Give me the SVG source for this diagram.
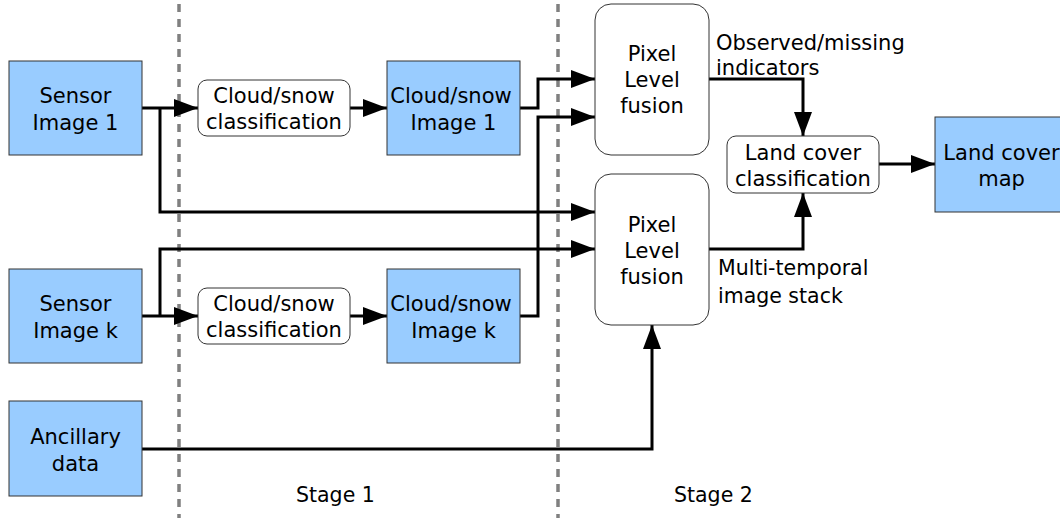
<svg xmlns="http://www.w3.org/2000/svg" width="1060" height="518" viewBox="0 0 1060 518">
<style>
  text { font-family: "DejaVu Sans", "Verdana", sans-serif; font-size: 21px; fill: #000; }
  .c { text-anchor: middle; }
  .sm { font-size: 20.5px; }
  .blue { fill: #99ccff; stroke: #333; stroke-width: 1; }
  .round { fill: #fff; stroke: #333; stroke-width: 1; }
  .conn { fill: none; stroke: #000; stroke-width: 3; marker-end: url(#arrow); }
  .div { stroke: #808080; stroke-width: 3.5; stroke-dasharray: 8 7; }
</style>
<defs>
  <marker id="arrow" markerUnits="userSpaceOnUse" markerWidth="24" markerHeight="18" refX="24" refY="9" orient="auto">
    <path d="M0,0 L24,9 L0,18 z" fill="#000"/>
  </marker>
</defs>
<rect width="1060" height="518" fill="#fff"/>
<g id="dividers">
  <line class="div" x1="179" y1="4" x2="179" y2="518"/>
  <line class="div" x1="558" y1="4" x2="558" y2="518"/>
</g>
<g id="connectors">
  <path class="conn" d="M142,108 H198"/>
  <path class="conn" d="M160,108 V212 H595"/>
  <path class="conn" d="M350,108 H387"/>
  <path class="conn" d="M520,108 H538 V79 H595"/>
  <path class="conn" d="M520,316 H538 V117 H595"/>
  <path class="conn" d="M142,316 H198"/>
  <path class="conn" d="M160,316 V249 H595"/>
  <path class="conn" d="M350,316 H387"/>
  <path class="conn" d="M142,449 H652 V325"/>
  <path class="conn" d="M709,79 H803 V136"/>
  <path class="conn" d="M709,249 H803 V193"/>
  <path class="conn" d="M879,164 H935"/>
</g>
<g id="sensor1">
  <rect class="blue" x="9" y="61" width="133" height="94"/>
  <text class="c" x="75.5" y="103">Sensor</text>
  <text class="c" x="75.5" y="130">Image 1</text>
</g>
<g id="sensork">
  <rect class="blue" x="9" y="269" width="133" height="94"/>
  <text class="c" x="75.5" y="311">Sensor</text>
  <text class="c" x="75.5" y="338">Image k</text>
</g>
<g id="ancillary">
  <rect class="blue" x="9" y="401" width="133" height="95"/>
  <text class="c" x="75.5" y="444">Ancillary</text>
  <text class="c" x="75.5" y="471">data</text>
</g>
<g id="class1">
  <rect class="round" x="198" y="80" width="152" height="56" rx="9"/>
  <text class="c" x="274" y="103">Cloud/snow</text>
  <text class="c" x="274" y="129">classification</text>
</g>
<g id="classk">
  <rect class="round" x="198" y="288" width="152" height="56" rx="9"/>
  <text class="c" x="274" y="311">Cloud/snow</text>
  <text class="c" x="274" y="337">classification</text>
</g>
<g id="csimg1">
  <rect class="blue" x="387" y="61" width="133" height="94"/>
  <text class="c" x="451" y="103">Cloud/snow</text>
  <text class="c" x="453.5" y="130">Image 1</text>
</g>
<g id="csimgk">
  <rect class="blue" x="387" y="269" width="133" height="94"/>
  <text class="c" x="451" y="311">Cloud/snow</text>
  <text class="c" x="453.5" y="338">Image k</text>
</g>
<g id="fusion1">
  <rect class="round" x="595" y="4" width="114" height="151" rx="16"/>
  <text class="c" x="652" y="61">Pixel</text>
  <text class="c" x="652" y="87">Level</text>
  <text class="c" x="652" y="113">fusion</text>
</g>
<g id="fusion2">
  <rect class="round" x="595" y="174" width="114" height="151" rx="16"/>
  <text class="c" x="652" y="232">Pixel</text>
  <text class="c" x="652" y="258">Level</text>
  <text class="c" x="652" y="284">fusion</text>
</g>
<g id="landcoverclass">
  <rect class="round" x="727" y="136" width="152" height="57" rx="9"/>
  <text class="c" x="803" y="160">Land cover</text>
  <text class="c" x="803" y="186">classification</text>
</g>
<g id="landcovermap">
  <rect class="blue" x="935" y="117" width="133" height="95"/>
  <text class="c" x="1001.5" y="160">Land cover</text>
  <text class="c" x="1001.5" y="186">map</text>
</g>
<g id="labels">
  <text x="716" y="50">Observed/missing</text>
  <text x="716" y="75">indicators</text>
  <text class="sm" x="718" y="275">Multi-temporal</text>
  <text class="sm" x="718" y="303">image stack</text>
  <text class="sm" x="296" y="502">Stage 1</text>
  <text class="sm" x="674" y="502">Stage 2</text>
</g>
</svg>
